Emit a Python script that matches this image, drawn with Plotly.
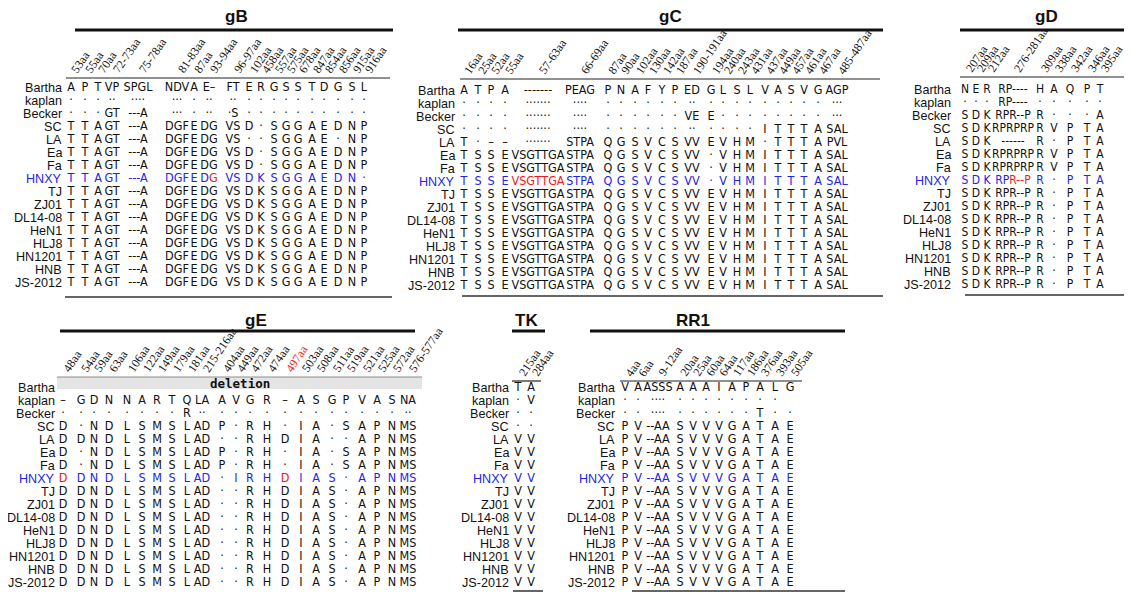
import plotly.graph_objects as go

W, H = 1132, 594
PAGE_MARGIN = 8  # default body margin of the html page

strains = ["Bartha", "kaplan", "Becker", "SC", "LA", "Ea", "Fa", "HNXY", "TJ", "ZJ01",
           "DL14-08", "HeN1", "HLJ8", "HN1201", "HNB", "JS-2012"]
HIGHLIGHT = "HNXY"

# ---------------- gB ----------------
gB_sites = ["53aa", "55aa", "70aa", "72-73aa", "75-78aa", "81-83aa", "87aa", "93-94aa", "96-97aa",
            "102aa", "458aa", "557aa", "575aa", "678aa", "847aa", "854aa", "856aa", "915aa", "916aa"]
gB_common = "T T A GT ---A DGF E DG VS D K S G G A E D N P"
gB_rows = [
    "A P T VP SPGL NDV A E– FT E R G S S T D G S L",
    "· · · ·· ···· ··· · ·· ·· · · · · · · · · · ·",
    "· · · GT ---A ··· · ·· ·S · · · · · · · · · ·",
    "T T A GT ---A DGF E DG VS D · S G G A E D N P",
    "T T A GT ---A DGF E DG VS · · S G G A E · N P",
    "T T A GT ---A DGF E DG VS D · S G G A E D N P",
    "T T A GT ---A DGF E DG VS D · S G G A E D N P",
    "T T A GT ---A DGF E DG VS D K S G G A E D N ·",
] + [gB_common] * 8
gB_red = {(7, 7): [1]}

# ---------------- gC ----------------
gC_sites = ["16aa", "25aa", "52aa", "55aa", "57-63aa", "66-69aa", "87aa", "90aa", "102aa", "130aa",
            "142aa", "187aa", "190-191aa", "194aa", "240aa", "243aa", "431aa", "437aa", "449aa",
            "457aa", "461aa", "467aa", "485-487aa"]
gC_common = "T S S E VSGTTGA STPA Q G S V C S VV E V H M I T T T A SAL"
gC_rows = [
    "A T P A ------- PEAG P N A F Y P ED G L S L V A S V G AGP",
    "· · · · ······· ···· · · · · · · ·· · · · · · · · · · ···",
    "· · · · ······· ···· · · · · · · VE E · · · · · · · · ···",
    "· · · · ······· ···· · · · · · · ·· · · · · I T T T A SAL",
    "T · – – ······· STPA Q G S V C S VV E V H M · T T T A PVL",
    "T S S E VSGTTGA STPA Q G S V C S VV · V H M I T T T A SAL",
    "T S S E VSGTTGA STPA Q G S V C S VV · V H M I T T T A SAL",
    "T S S E VSGTTGA STPA Q G S V C S VV · V H M I T T T A SAL",
] + [gC_common] * 8
gC_red = {(7, 4): [0, 1, 2, 3, 4, 5, 6]}

# ---------------- gD ----------------
gD_sites = ["207aa", "209aa", "212aa", "276-281aa", "309aa", "338aa", "342aa", "346aa", "395aa"]
gD_common = "S D K RPR--P R · P T A"
gD_rows = [
    "N E R RP---- H A Q P T",
    "· · · RP---- · · · · ·",
    "S D K RPR--P R · · · A",
    "S D K RPRPRP R V P T A",
    "S D K ------ R · P T A",
    "S D K RPRPRP R V P T A",
    "S D K RPRPRP R V P T A",
    "S D K RPR--P R · P T A",
] + [gD_common] * 8
gD_red = {(7, 3): [2, 3, 4, 5]}

# ---------------- gE ----------------
gE_sites = ["48aa", "54aa", "59aa", "63aa", "106aa", "122aa", "149aa", "179aa", "181aa", "215-216aa",
            "404aa", "449aa", "472aa", "474aa", "497aa", "503aa", "508aa", "511aa", "519aa", "521aa",
            "525aa", "572aa", "576-577aa"]
gE_site_red = ["497aa"]
gE_common = "D D N D L S M S L AD · · R H D I A S · A P N MS"
gE_rows = [
    None,  # Bartha: gE deletion
    "– G D N N A R T Q LA A V G R – A S G P V A S NA",
    "· · · · · · · · R ·· · · · · · · · · · · · · ··",
    "D · N D L S M S L AD P · R H · I A · S A P N MS",
    "D D N D L S M S L AD · · R H D I A · · A P N MS",
    "D · N D L S M S L AD P · R H · I A · S A P N MS",
    "D · N D L S M S L AD P · R H · I A · S A P N MS",
    "D D N D L S M S L AD · I R H D I A S · A P N MS",
] + [gE_common] * 8
gE_red = {(7, 0): [0], (7, 14): [0]}
gE_deletion_text = "deletion"

# ---------------- TK ----------------
TK_sites = ["215aa", "284aa"]
TK_rows = ["T A", "· V", "· ·", "· ·"] + ["V V"] * 12
TK_red = {}

# ---------------- RR1 ----------------
RR1_sites = ["4aa", "6aa", "9-12aa", "20aa", "25aa", "60aa", "64aa", "117aa", "186aa", "376aa",
             "393aa", "505aa"]
RR1_common = "P V --AA S V V V G A T A E"
RR1_rows = [
    "V A ASSS A A A I A P A L G",
    "· · ···· · · · · · · · ·",
    "· · ···· · · · · · · T · ·",
] + [RR1_common] * 13
RR1_red = {}

# ---------------- styling / layout ----------------
RES_FONT = "Liberation Sans Narrow, Arial Narrow, DejaVu Sans Condensed, Liberation Sans, sans-serif"
LBL_FONT = "Liberation Sans, Arial, sans-serif"
SITE_FONT = "Liberation Serif, Times New Roman, serif"
BLUE = "#2424e8"
RED = "#ee1c1c"
BLACK = "#111111"

panels = [
    dict(title="gB", sites=gB_sites, rows=gB_rows, red=gB_red, site_red=[], fs=12.5,
         col_x=[71, 85, 98, 112, 138, 177, 194, 209, 233, 249, 261, 274, 286, 298, 312, 324, 338, 352, 364],
         y0=88, pitch=13, lab_r=64, title_xy=(236, 16), thick=(75, 393, 30), thin=(66, 390, 78),
         bottom=(65, 392, 297)),
    dict(title="gC", sites=gC_sites, rows=gC_rows, red=gC_red, site_red=[], fs=12.5,
         col_x=[464, 478, 491, 505, 538, 580, 608, 621, 635, 648, 662, 675, 692, 711, 723, 737, 750,
                765, 778, 791, 804, 818, 837],
         y0=91, pitch=13, lab_r=457, title_xy=(670, 16), thick=(458, 883, 30), thin=(460, 880, 79),
         bottom=(462, 883, 296)),
    dict(title="gD", sites=gD_sites, rows=gD_rows, red=gD_red, site_red=[], fs=12,
         col_x=[965, 976, 987, 1013, 1040, 1054, 1070, 1087, 1100],
         y0=90, pitch=13, lab_r=953, title_xy=(1046, 16), thick=(960, 1132, 30), thin=(960, 1130, 77),
         bottom=(965, 1128, 295)),
    dict(title="gE", sites=gE_sites, rows=gE_rows, red=gE_red, site_red=gE_site_red, fs=12.5,
         col_x=[63, 81, 94, 109, 127, 142, 157, 172, 187, 202, 222, 236, 250, 267, 285, 301, 316, 332,
                346, 362, 377, 392, 408],
         y0=388, pitch=13, lab_r=57, title_xy=(256, 320), thick=(60, 415, 331), thin=None,
         bottom=None),
    dict(title="TK", sites=TK_sites, rows=TK_rows, red=TK_red, site_red=[], fs=12.5,
         col_x=[518, 531],
         y0=388, pitch=13, lab_r=511, title_xy=(526, 320), thick=(512, 545, 331), thin=(512, 541, 381),
         bottom=(513, 543, 591)),
    dict(title="RR1", sites=RR1_sites, rows=RR1_rows, red=RR1_red, site_red=[], fs=12.5,
         col_x=[625, 638, 658, 680, 693, 706, 719, 732, 746, 760, 775, 790],
         y0=388, pitch=13, lab_r=617, title_xy=(693, 320), thick=(590, 845, 331), thin=(620, 802, 381),
         bottom=(632, 845, 591)),
]


def rich(tok, redset):
    if not redset:
        return tok
    out = ""
    for k, ch in enumerate(tok):
        if k in redset:
            out += f"<span style='color:{RED}'>{ch}</span>"
        else:
            out += ch
    return out


fig = go.Figure()
shapes = []
annotations = []

for p in panels:
    xs, ys, texts, colors = [], [], [], []
    for i, row in enumerate(p["rows"]):
        y = p["y0"] + i * p["pitch"]
        row_color = BLUE if strains[i] == HIGHLIGHT else BLACK
        annotations.append(dict(x=p["lab_r"], y=y, xref="x", yref="y", text=strains[i],
                                showarrow=False, xanchor="right", yanchor="middle",
                                font=dict(family=LBL_FONT, size=12.6, color=row_color)))
        if row is None:
            continue
        for j, tok in enumerate(row.split(" ")):
            xs.append(p["col_x"][j])
            ys.append(y)
            texts.append(rich(tok, p["red"].get((i, j))))
            colors.append(row_color)
    fig.add_trace(go.Scatter(x=xs, y=ys, text=texts, mode="text", textposition="middle center",
                             textfont=dict(family=RES_FONT, size=p["fs"], color=colors),
                             hoverinfo="skip", showlegend=False, cliponaxis=False))
    label_base = p["thin"][2] - 1 if p["thin"] else 376
    for j, s in enumerate(p["sites"]):
        annotations.append(dict(x=p["col_x"][j] - 4, y=label_base, xref="x", yref="y", text=s,
                                showarrow=False, xanchor="left", yanchor="bottom", textangle=-56,
                                borderpad=0,
                                font=dict(family=SITE_FONT, size=12,
                                          color=RED if s in p["site_red"] else BLACK)))
    annotations.append(dict(x=p["title_xy"][0], y=p["title_xy"][1], xref="x", yref="y",
                            text=f"<b>{p['title']}</b>", showarrow=False,
                            font=dict(family=LBL_FONT, size=17, color=BLACK)))
    x0, x1, yy = p["thick"]
    shapes.append(dict(type="line", xref="x", yref="y", x0=x0, x1=x1, y0=yy, y1=yy,
                       line=dict(color=BLACK, width=3.2)))
    if p["thin"]:
        x0, x1, yy = p["thin"]
        shapes.append(dict(type="line", xref="x", yref="y", x0=x0, x1=x1, y0=yy, y1=yy,
                           line=dict(color="#222222", width=1.2)))
    if p["bottom"]:
        x0, x1, yy = p["bottom"]
        shapes.append(dict(type="line", xref="x", yref="y", x0=x0, x1=x1, y0=yy, y1=yy,
                           line=dict(color="#333333", width=1.5)))

shapes.append(dict(type="rect", xref="x", yref="y", x0=57, x1=422, y0=377, y1=389,
                   fillcolor="#e4e4e4", line=dict(width=0), layer="below"))
shapes.append(dict(type="line", xref="x", yref="y", x0=57, x1=422, y0=377, y1=377,
                   line=dict(color="#8c8c8c", width=1)))
annotations.append(dict(x=240, y=383, xref="x", yref="y", text=f"<b>{gE_deletion_text}</b>",
                        showarrow=False,
                        font=dict(family="DejaVu Sans Mono, monospace", size=12.5, color=BLACK)))

# the page adds an 8px body margin, so the figure is drawn 8px smaller and its
# axes start at 8 so that figure coordinates equal window pixels
fig.update_layout(
    width=W - PAGE_MARGIN, height=H - PAGE_MARGIN, margin=dict(l=0, r=0, t=0, b=0),
    paper_bgcolor="white", plot_bgcolor="white",
    xaxis=dict(range=[PAGE_MARGIN, W], visible=False, fixedrange=True),
    yaxis=dict(range=[H, PAGE_MARGIN], visible=False, fixedrange=True),
    shapes=shapes, annotations=annotations,
)

fig.write_html("out.html")
